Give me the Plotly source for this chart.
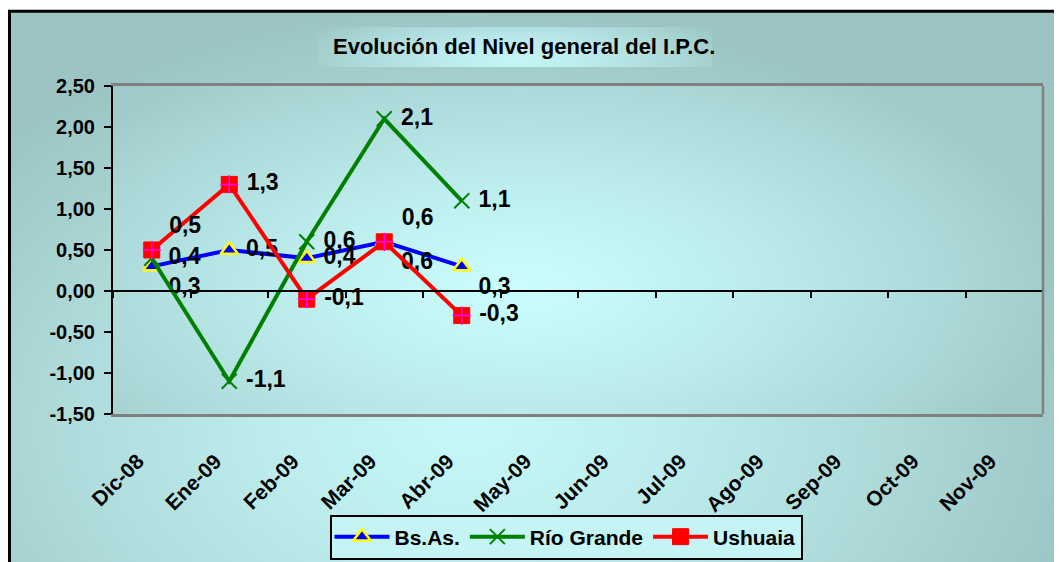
import base64, struct, zlib
import numpy as np
import plotly.graph_objects as go

# ---------------- data ----------------
months = ["Dic-08", "Ene-09", "Feb-09", "Mar-09", "Abr-09", "May-09",
          "Jun-09", "Jul-09", "Ago-09", "Sep-09", "Oct-09", "Nov-09"]
bsas = [0.3, 0.5, 0.4, 0.6, 0.3, None, None, None, None, None, None, None]
rio_grande = [0.4, -1.1, 0.6, 2.1, 1.1, None, None, None, None, None, None, None]
ushuaia = [0.5, 1.3, -0.1, 0.6, -0.3, None, None, None, None, None, None, None]
y_ticks = [-1.5, -1.0, -0.5, 0.0, 0.5, 1.0, 1.5, 2.0, 2.5]
title_text = "Evolución del Nivel general del I.P.C."

bsas_pos = ["bottom right", "middle right", "middle right", "bottom right", "bottom right"] + ["middle right"] * 7
rio_pos = ["middle right"] * 12
ush_pos = ["top right", "middle right", "middle right", "top right", "middle right"] + ["middle right"] * 7


def fmt(v, nd):
    if v is None:
        return None
    return f"{v:.{nd}f}".replace(".", ",")


def lab(vals):
    return [None if v is None else "\u00a0" + fmt(v, 1) for v in vals]


# ---------------- geometry helpers ----------------
OFF = 8  # page body margin
W, H = 1062, 562
L, R, T, B = 113 - OFF, 1043 - OFF, 86 - OFF, 415 - OFF


def px2x(px):  # px in reference-picture coordinates
    return (px - OFF - L) / (R - L)


def py2y(py):
    return (B - (py - OFF)) / (B - T)


def png_uri(arr):
    h, w, _ = arr.shape
    raw = b"".join(b"\x00" + arr[i].tobytes() for i in range(h))

    def chunk(t, d):
        return struct.pack(">I", len(d)) + t + d + struct.pack(">I", zlib.crc32(t + d) & 0xFFFFFFFF)

    png = (b"\x89PNG\r\n\x1a\n"
           + chunk(b"IHDR", struct.pack(">IIBBBBB", w, h, 8, 2, 0, 0, 0))
           + chunk(b"IDAT", zlib.compress(raw, 9))
           + chunk(b"IEND", b""))
    return "data:image/png;base64," + base64.b64encode(png).decode()


def radial(x0, y0, x1, y1, cx, cy, rx, ry, light, dark, step=4):
    xs = np.arange(x0, x1, step) + step / 2
    ys = np.arange(y0, y1, step) + step / 2
    X, Y = np.meshgrid(xs, ys)
    d = np.sqrt(((X - cx) / rx) ** 2 + ((Y - cy) / ry) ** 2)
    t = np.clip(d, 0, 1) ** 1.3
    light = np.array(light, float)
    dark = np.array(dark, float)
    img = light[None, None, :] + (dark - light)[None, None, :] * t[..., None]
    return np.clip(img, 0, 255).astype(np.uint8)


outer_img = radial(9, 11, 1080, 580, 470, 430, 640, 430, (198, 248, 248), (156, 196, 196))
plot_img = radial(113, 86, 1043, 415, 520, 290, 560, 270, (202, 253, 253), (160, 202, 202))
title_img = radial(318, 27, 712, 67, 515, 60, 230, 60, (196, 246, 246), (158, 200, 200), step=2)

FONT = "Liberation Sans, Arial"
lab_font = dict(family=FONT, size=23, color="black", weight="bold")

fig = go.Figure()

fig.add_trace(go.Scatter(
    x=months, y=bsas, name="Bs.As.", mode="lines+markers+text",
    line=dict(color="#0000FF", width=4),
    marker=dict(symbol="triangle-up", size=15, color="#0000FF",
                line=dict(color="#FFFF00", width=2.5)),
    text=lab(bsas), textposition=bsas_pos, textfont=lab_font,
    cliponaxis=False, hoverinfo="x+y",
))
fig.add_trace(go.Scatter(
    x=months, y=rio_grande, name="Río Grande", mode="lines+markers+text",
    line=dict(color="#008000", width=4),
    marker=dict(symbol="x-thin", size=15, color="#008000",
                line=dict(color="#008000", width=2)),
    text=lab(rio_grande), textposition=rio_pos, textfont=lab_font,
    cliponaxis=False, hoverinfo="x+y",
))
fig.add_trace(go.Scatter(
    x=months, y=ushuaia, name="Ushuaia", mode="lines+markers+text",
    line=dict(color="#FF0000", width=4),
    marker=dict(symbol="square", size=16, color="#FF0000",
                line=dict(color="#FF0000", width=1)),
    text=lab(ushuaia), textposition=ush_pos, textfont=lab_font,
    cliponaxis=False, hoverinfo="x+y", legendgroup="ush",
))
# magenta cross inside the Ushuaia squares
fig.add_trace(go.Scatter(
    x=months, y=ushuaia, mode="markers", showlegend=False, legendgroup="ush",
    marker=dict(symbol="cross-thin", size=13, color="#FF00FF",
                line=dict(color="#FF00FF", width=1.5)),
    cliponaxis=False, hoverinfo="skip",
))
# helper trace so the zero-crossing axis (tick marks at y=0) is drawn
fig.add_trace(go.Scatter(x=months, y=[None] * len(months), xaxis="x2", yaxis="y",
                         showlegend=False, hoverinfo="skip", mode="lines"))

fig.update_layout(
    width=W, height=H,
    margin=dict(l=L, r=W - R, t=T, b=H - B),
    paper_bgcolor="white",
    plot_bgcolor="rgba(0,0,0,0)",
    font=dict(family=FONT, color="black"),
    showlegend=True,
    legend=dict(
        orientation="h", x=px2x(566), y=py2y(537), xanchor="center", yanchor="middle",
        bgcolor="#c4f4f4", bordercolor="black", borderwidth=2,
        font=dict(size=21, weight="bold", family=FONT),
        itemwidth=55, tracegroupgap=0,
    ),
    xaxis=dict(
        type="category", categoryorder="array", categoryarray=months,
        range=[-0.5, 11.5], showgrid=False, zeroline=False,
        showline=True, linecolor="#808080", linewidth=2.5, mirror=True,
        ticks="", ticklabelstandoff=24, ticklabelshift=-14,
        tickangle=-45,
        tickfont=dict(size=21, weight="bold", family=FONT),
    ),
    xaxis2=dict(
        type="category", categoryorder="array", categoryarray=months,
        range=[-0.5, 11.5], overlaying="x", anchor="free", position=1.5 / 4.0,
        side="bottom", showgrid=False, zeroline=False,
        showline=True, linecolor="black", linewidth=2,
        ticks="outside", tickson="boundaries", ticklen=6, tickwidth=2, tickcolor="black",
        showticklabels=False,
    ),
    yaxis=dict(
        range=[-1.5, 2.5], tickvals=y_ticks, ticktext=[fmt(v, 2) for v in y_ticks],
        showgrid=False, zeroline=False,
        showline=True, linecolor="black", linewidth=2,
        ticks="outside", ticklen=7, tickwidth=2, tickcolor="black",
        ticklabelstandoff=5,
        tickfont=dict(size=20, weight="bold", family=FONT),
    ),
    images=[
        dict(source=png_uri(outer_img), xref="paper", yref="paper",
             x=px2x(9), y=py2y(11), sizex=px2x(1080) - px2x(9), sizey=py2y(11) - py2y(580),
             xanchor="left", yanchor="top", sizing="stretch", layer="below"),
        dict(source=png_uri(plot_img), xref="paper", yref="paper",
             x=0, y=1, sizex=1, sizey=1,
             xanchor="left", yanchor="top", sizing="stretch", layer="below"),
        dict(source=png_uri(title_img), xref="paper", yref="paper",
             x=px2x(318), y=py2y(27), sizex=px2x(712) - px2x(318), sizey=py2y(27) - py2y(67),
             xanchor="left", yanchor="top", sizing="stretch", layer="below"),
    ],
    shapes=[
        dict(type="rect", xref="paper", yref="paper",
             x0=px2x(9.5), y0=py2y(590), x1=px2x(1090), y1=py2y(11),
             line=dict(color="black", width=3), fillcolor="rgba(0,0,0,0)", layer="above"),
        dict(type="line", xref="paper", yref="paper", x0=1, x1=1, y0=0, y1=1,
             line=dict(color="#808080", width=2.5), layer="above"),
    ],
    annotations=[
        dict(text=title_text, xref="paper", yref="paper", x=px2x(524), y=py2y(46),
             xanchor="center", yanchor="middle", showarrow=False,
             font=dict(size=22, weight="bold", family=FONT, color="black")),
    ],
)

fig.write_html("out.html")
